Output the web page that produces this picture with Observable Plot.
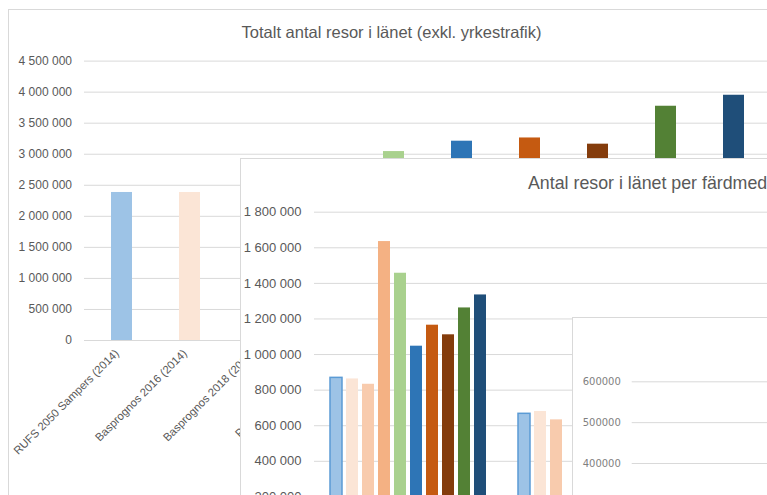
<!DOCTYPE html>
<html>
<head>
<meta charset="utf-8">
<script src="https://cdn.jsdelivr.net/npm/d3@7"></script>
<script src="https://cdn.jsdelivr.net/npm/@observablehq/plot@0.6"></script>
<style>
html, body { margin: 0; padding: 0; background: #fff; }
body { width: 767px; height: 495px; overflow: hidden; position: relative; font-family: "Liberation Sans", Arial, sans-serif; }
.chart { position: absolute; background: #fff; border: 1px solid #d9d9d9; overflow: hidden; }
.chart svg { position: absolute; left: 0; top: 0; }
.title { position: absolute; color: #595959; white-space: nowrap; line-height: 1; font-family: "Liberation Sans", Arial, sans-serif; }
</style>
</head>
<body>
<div id="c1" class="chart" style="left:8px;top:9px;width:800px;height:520px;">
  <div class="title" style="left:382.5px;top:14.3px;font-size:16.5px;transform:translateX(-50%);">Totalt antal resor i länet (exkl. yrkestrafik)</div>
</div>
<div id="c2" class="chart" style="left:240px;top:158px;width:840px;height:420px;">
  <div class="title" style="left:287px;top:16px;font-size:17.8px;">Antal resor i länet per färdmedel</div>
</div>
<div id="c3" class="chart" style="left:572px;top:317px;width:500px;height:400px;"></div>
<script>
// ---- data ----
const scenarios = [
  "RUFS 2050 Sampers (2014)",
  "Basprognos 2016 (2014)",
  "Basprognos 2018 (2017)",
  "Prognos 2050 Sampers",
  "Basprognos 2016 (2040)",
  "Basprognos 2018 (2040)",
  "RUFS 2050 Sampers (2040)",
  "Basprognos 2016 (2050)",
  "Basprognos 2018 (2050)",
  "RUFS 2050 Sampers (2050)"
];
const colors = ["#9DC3E6", "#FBE5D6", "#F8CBAD", "#F4B183", "#A9D18E", "#2E75B6", "#C55A11", "#843C0C", "#538135", "#1F4E79"];

// Chart 1: total trips per scenario
const totals = [2384000, 2384000, 2350000, 2900000, 3043000, 3210000, 3262000, 3162000, 3773000, 3950000];
const totalTicks = [0, 500000, 1000000, 1500000, 2000000, 2500000, 3000000, 3500000, 4000000, 4500000];

// Chart 2: trips per mode
const modes = ["Bil", "Kollektivtrafik", "Cykel", "Gång"];
const bil = [869000, 863000, 833000, 1635000, 1457000, 1047000, 1165000, 1111000, 1262000, 1335000];
const kollektivtrafik = [667000, 680000, 633000, 190000, 760000, 1020000, 980000, 930000, 1110000, 1150000];
const cykel = [210000, 205000, 215000, 240000, 230000, 260000, 275000, 255000, 285000, 290000];
const gang = [640000, 636000, 670000, 835000, 596000, 883000, 842000, 866000, 1116000, 1175000];
const modeTicks = [0, 200000, 400000, 600000, 800000, 1000000, 1200000, 1400000, 1600000, 1800000];

// Chart 3: cycling trips per scenario (axis only visible)
const chart3Ticks = [0, 100000, 200000, 300000, 400000, 500000, 600000];

// ---- helpers ----
const fmt = d => d3.format(",")(d).replace(/,/g, " ");
const grid = "#d9d9d9";
const textColor = "#595959";

// ---- chart 1 ----
const t1 = scenarios.map((s, i) => ({scenario: s, value: totals[i]}));
const c1 = Plot.plot({
  width: 782, height: 480,
  marginLeft: 75, marginRight: 20, marginTop: 50.6, marginBottom: 150,
  style: {fontFamily: "Liberation Sans, Arial, sans-serif", color: textColor, background: "transparent", overflow: "visible"},
  x: {domain: scenarios, paddingInner: 0.687, paddingOuter: 0.3435},
  y: {domain: [0, 4500000]},
  color: {domain: scenarios, range: colors},
  marks: [
    Plot.gridY(totalTicks, {stroke: grid, strokeOpacity: 1}),
    Plot.axisY(totalTicks, {tickFormat: fmt, tickSize: 0, tickPadding: 12.5, fontSize: 12, fill: textColor, label: null}),
    Plot.axisX({tickRotate: -45, tickSize: 0, tickPadding: 8, dx: -5, dy: 3, fontSize: 11.3, fill: textColor, label: null}),
    Plot.barY(t1, {x: "scenario", y: "value", fill: "scenario"})
  ]
});
document.getElementById("c1").prepend(c1);

// ---- chart 2 ----
const modeValues = [bil, kollektivtrafik, cykel, gang];
const rows2 = [];
modes.forEach((m, i) => scenarios.forEach((s, j) => rows2.push({mode: m, scenario: s, value: modeValues[i][j]})));
const c2 = Plot.plot({
  width: 835, height: 413,
  marginLeft: 73, marginRight: 10, marginTop: 52.7, marginBottom: 40,
  style: {fontFamily: "Liberation Sans, Arial, sans-serif", color: textColor, background: "transparent"},
  fx: {domain: modes, padding: 0, axis: null, label: null},
  x: {domain: scenarios, paddingInner: 0.24, paddingOuter: 0.86, axis: null},
  y: {domain: [0, 1800000]},
  color: {domain: scenarios, range: colors},
  marks: [
    Plot.gridY(modeTicks, {stroke: grid, strokeOpacity: 1}),
    Plot.axisY(modeTicks, {tickFormat: fmt, tickSize: 0, tickPadding: 13, fontSize: 13, fill: textColor, label: null}),
    Plot.barY(rows2, {fx: "mode", x: "scenario", y: "value", fill: "scenario"}),
    Plot.barY(rows2.filter(d => d.scenario === scenarios[0]), {fx: "mode", x: "scenario", y: "value", fill: "none", stroke: "#5B9BD5", strokeWidth: 1.5})
  ]
});
document.getElementById("c2").prepend(c2);

// ---- chart 3 ----
const t3 = scenarios.map((s, i) => ({scenario: s, value: cykel[i]}));
const c3 = Plot.plot({
  width: 480, height: 348.4,
  marginLeft: 58.7, marginRight: 10, marginTop: 63.3, marginBottom: 40,
  style: {fontFamily: "DejaVu Sans, sans-serif", color: "#7f7f7f", background: "transparent"},
  x: {domain: scenarios, padding: 0.4, axis: null},
  y: {domain: [0, 600000]},
  color: {domain: scenarios, range: colors},
  marks: [
    Plot.gridY(chart3Ticks, {stroke: grid, strokeOpacity: 1}),
    Plot.axisY(chart3Ticks, {tickFormat: d => String(d), tickSize: 0, tickPadding: 11.4, fontSize: 10, fill: "#7f7f7f", label: null}),
    Plot.barY(t3, {x: "scenario", y: "value", fill: "scenario"})
  ]
});
document.getElementById("c3").prepend(c3);
</script>
</body>
</html>
